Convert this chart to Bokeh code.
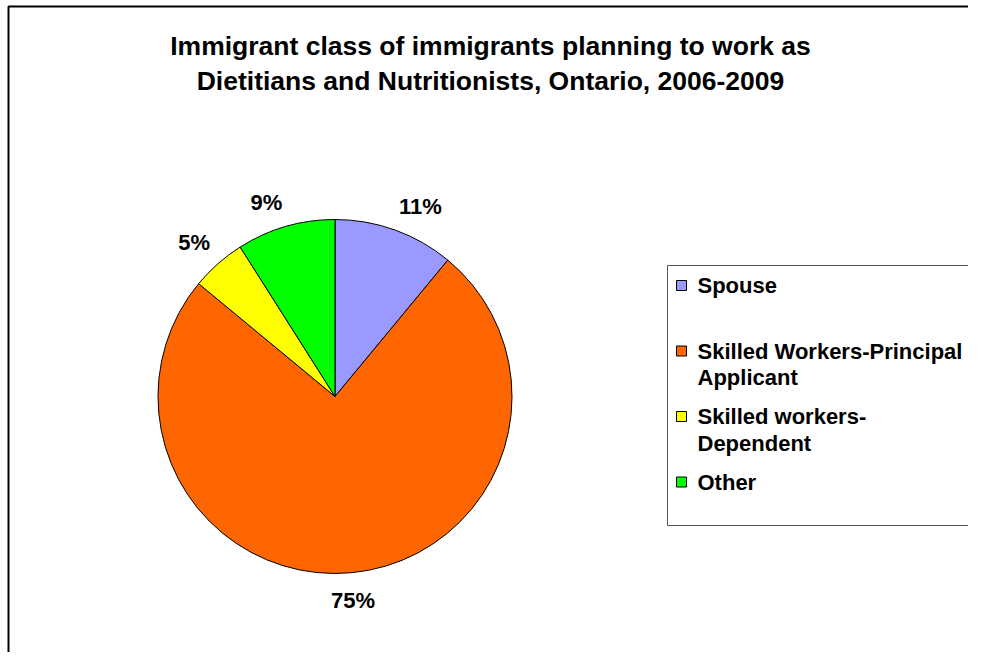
import math
from bokeh.plotting import figure
from bokeh.models import Range1d
from bokeh.embed import file_html
from bokeh.resources import INLINE
from bokeh.core.properties import value

# ---- data ----
title_lines = ["Immigrant class of immigrants planning to work as",
               "Dietitians and Nutritionists, Ontario, 2006-2009"]
categories = ["Spouse", "Skilled Workers-Principal Applicant",
              "Skilled workers-Dependent", "Other"]
legend_lines = [["Spouse"], ["Skilled Workers-Principal", "Applicant"],
                ["Skilled workers-", "Dependent"], ["Other"]]
percentages = [11, 75, 5, 9]
colors = ["#9999FF", "#FF6600", "#FFFF00", "#00FF00"]

FONT = value("Liberation Sans")
W, H = 968, 652

p = figure(width=W, height=H, output_backend="svg", toolbar_location=None,
           x_range=Range1d(0, W), y_range=Range1d(0, H), min_border=0,
           x_axis_location=None, y_axis_location=None)
p.grid.visible = False
p.outline_line_color = None
p.background_fill_color = "white"
p.border_fill_color = "white"

# chart-area border (left and top edges visible in reference)
p.line(x=[8, 8, W + 5], y=[-5, 646, 646], line_color="black", line_width=2)

# title
p.text(x=[490, 490], y=[607, 572], text=title_lines, text_font=FONT,
       text_font_size="26.5px", text_font_style="bold", text_align="center",
       text_baseline="middle", text_color="black")

# pie
cx, cy, r = 334.5, 256, 177
total = sum(percentages)
cum = 0
starts, ends, lx, ly, aligns, bases = [], [], [], [], [], []
for v in percentages:
    a0 = math.pi / 2 - 2 * math.pi * cum / total
    a1 = math.pi / 2 - 2 * math.pi * (cum + v) / total
    mid = math.pi / 2 - 2 * math.pi * (cum + v / 2) / total
    starts.append(a0)
    ends.append(a1)
    c, s = math.cos(mid), math.sin(mid)
    R = r + 12 if s > 0 else r + 15
    lx.append(cx + R * c)
    ly.append(cy + R * s)
    aligns.append("left" if c > 0.1 else ("right" if c < -0.1 else "center"))
    bases.append("bottom" if s > 0 else "top")
    cum += v

p.wedge(x=cx, y=cy, radius=r, start_angle=starts, end_angle=ends,
        direction="clock", fill_color=colors, line_color="black", line_width=1)

for i, v in enumerate(percentages):
    p.text(x=[lx[i]], y=[ly[i]], text=[f"{v}%"], text_font=FONT,
           text_font_size="22px", text_font_style="bold", text_align=aligns[i],
           text_baseline=bases[i], text_color="black")

# legend
p.quad(left=667, right=W + 20, top=387, bottom=127, fill_color="white",
       line_color="#555555", line_width=1)
row0, step, lh = 367, 65.5, 26.5
for i, cat in enumerate(categories):
    yy = row0 - i * step
    p.scatter(x=[681], y=[yy], marker="square", size=10,
              fill_color=colors[i], line_color="black", line_width=1)
    lines = legend_lines[i]
    p.text(x=[697] * len(lines), y=[yy - k * lh for k in range(len(lines))],
           text=lines, text_font=FONT, text_font_size="22px",
           text_font_style="bold", text_align="left", text_baseline="middle",
           text_color="black")

open("out.html", "w").write(file_html(p, INLINE))
